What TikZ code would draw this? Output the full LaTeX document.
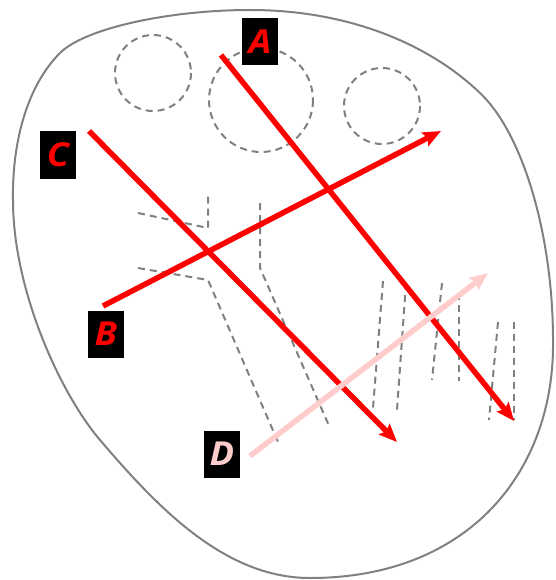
\documentclass[tikz,border=0pt]{standalone}
\usepackage{fontspec}
\newfontfamily\labelfont{Open Sans}[FakeStretch=1.1]
\usetikzlibrary{arrows.meta}
\definecolor{outlinegray}{HTML}{808080}
\definecolor{pinkarrow}{HTML}{FFCCCC}
\tikzset{
  outline/.style={draw=outlinegray, line width=2pt},
  guide/.style={draw=outlinegray, line width=2pt, dash pattern=on 7pt off 5pt},
  path arrow/.style={line width=5.5pt, -{Stealth[length=18pt,width=15pt,inset=3pt]}},
  tag/.style={fill=black, minimum width=36pt, minimum height=47pt, inner sep=0pt,
    font=\labelfont\bfseries\itshape\fontsize{33}{33}\selectfont}
}
\begin{document}
\begin{tikzpicture}[x=1pt, y=-1pt]
\useasboundingbox (0,0) rectangle (555,580);

% outer boundary
\draw[outline] (13,200)
  .. controls (12,140) and (28,85) .. (60,53)
  .. controls (85,28) and (170,10) .. (250,10)
  .. controls (350,10) and (430,45) .. (480,93)
  .. controls (525,136) and (553,240) .. (553,340)
  .. controls (555,470) and (470,578) .. (310,578)
  .. controls (225,578) and (158,508) .. (100,440)
  .. controls (60,393) and (13,290) .. cycle;

% dashed circles
\draw[guide] (153,73) circle (38);
\draw[guide] (261,100) circle (52);
\draw[guide] (382,106) circle (38);

% dashed guide lines
\draw[guide] (138,213) -- (208,228) -- (208,194);
\draw[guide] (138,268) -- (208,280) -- (278,442);
\draw[guide] (260,203) -- (260,268) -- (330,428);
\draw[guide] (383,281) -- (373,408);
\draw[guide] (406,283) -- (397,410);
\draw[guide] (442,283) -- (432,380);
\draw[guide] (459,293) -- (459,381);
\draw[guide] (498,322) -- (489,420);
\draw[guide] (514,322) -- (514,420);

% arrow end points
\coordinate (a0) at (221,55);  \coordinate (a1) at (514,421);
\coordinate (b0) at (103,306); \coordinate (b1) at (441,131);
\coordinate (c0) at (89,131);  \coordinate (c1) at (397,442);
\coordinate (d0) at (250,456); \coordinate (d1) at (488,273);

\draw[path arrow, red] (a0) -- (a1);
\draw[path arrow, red] (b0) -- (b1);
\draw[path arrow, red] (c0) -- (c1);
\draw[path arrow, pinkarrow] (d0) -- (d1);

% labels
\node[tag, text=red] (la) at (260,42) {A};
\node[tag, text=red] (lc) at (58,155) {C};
\node[tag, text=red] (lb) at (106,334) {B};
\node[tag, text=pinkarrow] (ld) at (222,454) {D};
\end{tikzpicture}
\end{document}
